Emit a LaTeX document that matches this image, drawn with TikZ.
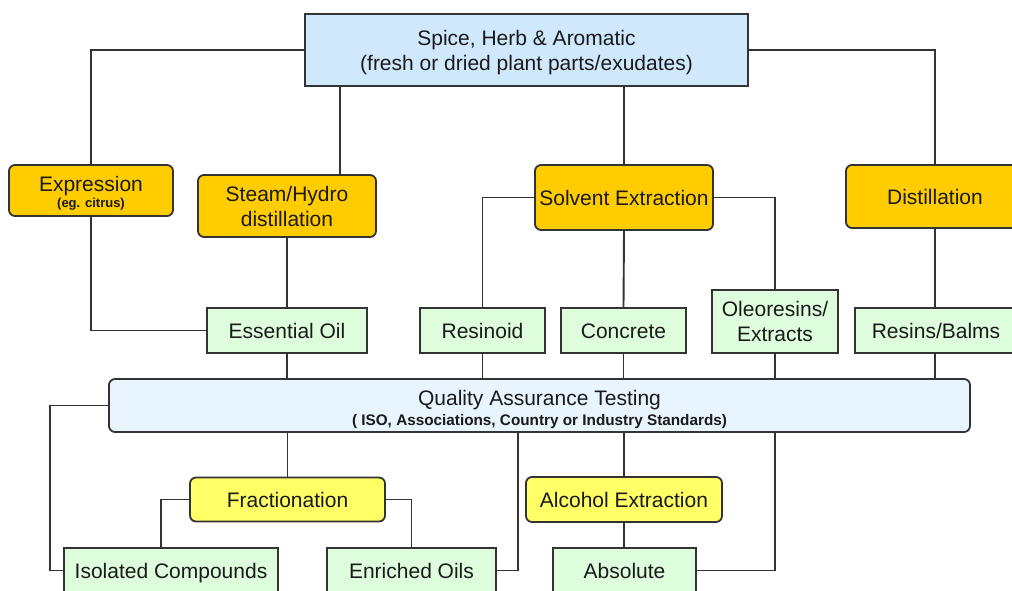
\documentclass[tikz,border=0pt]{standalone}
\usepackage{fontspec}
\setmainfont{Liberation Sans}
\definecolor{srcblue}{HTML}{CFE8FC}
\definecolor{methodorange}{HTML}{FFCC00}
\definecolor{prodgreen}{HTML}{DDFDDD}
\definecolor{qablue}{HTML}{E8F4FE}
\definecolor{stepyellow}{HTML}{FFFF66}
\definecolor{linegray}{HTML}{333333}
\definecolor{textdark}{HTML}{1A1A1A}
% fixed line heights so that stacked labels sit centred on their capitals
\newcommand{\upstrut}[1]{\rule{0pt}{#1}}
\newcommand{\downstrut}[1]{\rule[-#1]{0pt}{#1}}
\begin{document}
\begin{tikzpicture}[x=1pt,y=-1pt,
  box/.style={draw=linegray, line width=1.8pt, inner sep=0pt, align=center,
    text=textdark, font=\fontsize{21}{25}\selectfont},
  oneline/.style={text height=18pt, text depth=2pt},
  srcbox/.style={box, fill=srcblue},
  methodbox/.style={box, fill=methodorange, rounded corners=6pt},
  prodbox/.style={box, fill=prodgreen, minimum height=45pt},
  qabox/.style={box, fill=qablue, rounded corners=6pt},
  stepbox/.style={box, fill=stepyellow, rounded corners=6pt},
  link/.style={draw=linegray, line width=1.9pt}]
\useasboundingbox (0,0) rectangle (1012,591);
\clip (0,0) rectangle (1012,591);

% raw material
\node[srcbox, minimum width=443pt, minimum height=72pt] (top) at (526.5,50)
  {\upstrut{21pt}Spice, Herb \& Aromatic\\(fresh or dried plant parts/exudates)\downstrut{5pt}};

% processing methods
\node[methodbox, minimum width=164pt, minimum height=51pt] (expr) at (91,190.5)
  {\upstrut{23.4pt}Expression\\[-9pt]{\fontsize{13}{15}\selectfont\bfseries (eg. citrus)}\downstrut{5pt}};
\node[methodbox, minimum width=178pt, minimum height=62pt] (steam) at (287,206)
  {\upstrut{20pt}Steam/Hydro\\distillation\downstrut{5pt}};
\node[methodbox, oneline, minimum width=178pt, minimum height=65pt] (solv) at (624,197.5)
  {Solvent Extraction};
\node[methodbox, oneline, minimum width=178pt, minimum height=63pt] (dist) at (935,196.5)
  {Distillation};

% primary products
\node[prodbox, oneline, minimum width=160pt] (eo) at (287,330.5) {Essential Oil};
\node[prodbox, oneline, minimum width=125pt] (res) at (482.5,330.5) {Resinoid};
\node[prodbox, oneline, minimum width=125pt] (conc) at (623.5,330.5) {Concrete};
\node[prodbox, minimum width=126pt, minimum height=63pt] (oleo) at (775,321.5)
  {\upstrut{20pt}Oleoresins/\\Extracts\downstrut{5pt}};
\node[prodbox, oneline, minimum width=162pt] (rb) at (936,330.5) {Resins/Balms};

% quality assurance
\node[qabox, minimum width=861pt, minimum height=53pt] (qa) at (539.5,405.5)
  {\upstrut{24pt}Quality Assurance Testing\\[-5pt]{\fontsize{15.3}{18}\selectfont\bfseries ( ISO, Associations, Country or Industry Standards)}\downstrut{5pt}};

% further processing
\node[stepbox, oneline, minimum width=195pt, minimum height=44pt] (frac) at (287.5,499.5)
  {Fractionation};
\node[stepbox, oneline, minimum width=196pt, minimum height=45pt] (alc) at (624,499.5)
  {Alcohol Extraction};

% final products
\node[prodbox, oneline, minimum width=214pt] (iso) at (171,570.5) {Isolated Compounds};
\node[prodbox, oneline, minimum width=169pt] (enr) at (411.5,570.5) {Enriched Oils};
\node[prodbox, oneline, minimum width=143pt] (abs) at (624.5,570.5) {Absolute};

% guide positions for off-centre connectors
\coordinate (steamdrop) at (340,0);
\coordinate (qaleft) at (50,0);
\coordinate (isodrop) at (161,0);
\coordinate (enrdrop) at (518,0);

% raw material to methods
\draw[link] (top.west) -| (expr.north);
\draw[link] (top.east) -| (dist.north);
\draw[link] (top.south -| steamdrop) -- (steam.north -| steamdrop);
\draw[link] (top.south -| solv) -- (solv.north);

% methods to products
\draw[link] (expr.south) |- (eo.west);
\draw[link] (steam.south) -- (eo.north);
\draw[link] (solv.west) -| (res.north);
\draw[link] (solv.south) -- (conc.north);
\draw[link] (solv.east) -| (oleo.north);
\draw[link] (dist.south) -- (rb.north -| dist);

% products to quality assurance
\draw[link] (eo.south) -- (qa.north -| eo);
\draw[link] (res.south) -- (qa.north -| res);
\draw[link] (conc.south) -- (qa.north -| conc);
\draw[link] (oleo.south) -- (qa.north -| oleo);
\draw[link] (rb.south -| dist) -- (qa.north -| dist);

% quality assurance onwards
\draw[link] (qa.west) -| (iso.west -| qaleft) -- (iso.west);
\draw[link] (qa.south -| frac) -- (frac.north);
\draw[link] (frac.west) -| (iso.north -| isodrop);
\draw[link] (frac.east) -| (enr.north);
\draw[link] (qa.south -| enrdrop) |- (enr.east);
\draw[link] (qa.south -| alc) -- (alc.north);
\draw[link] (alc.south) -- (abs.north -| alc);
\draw[link] (qa.south -| oleo) |- (abs.east);
\end{tikzpicture}
\end{document}
